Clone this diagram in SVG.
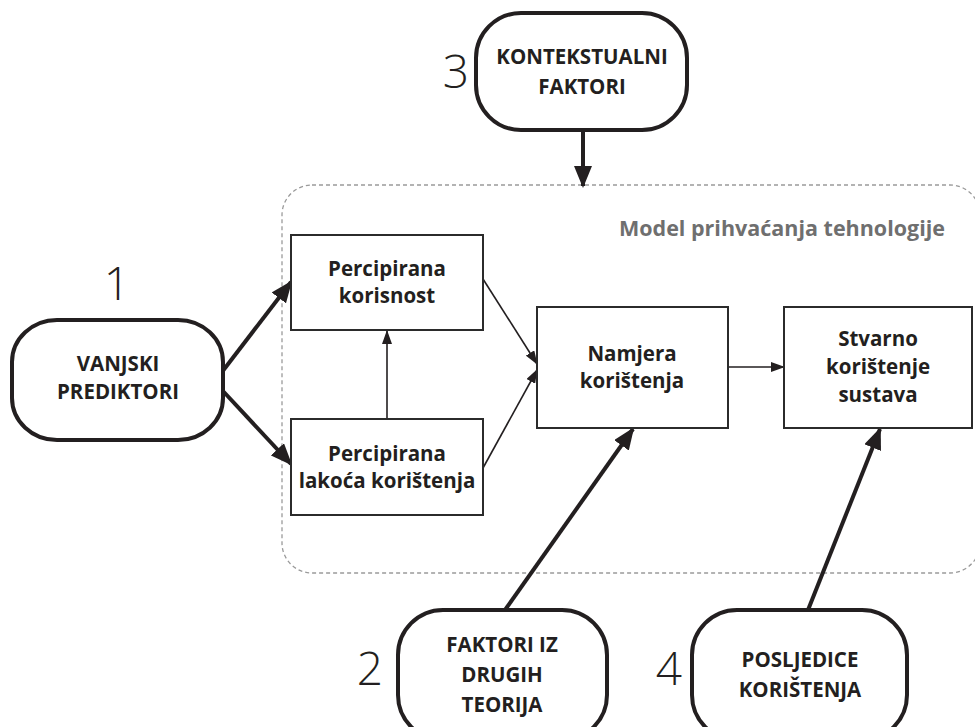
<svg xmlns="http://www.w3.org/2000/svg" width="975" height="727" viewBox="0 0 975 727">
<defs>
<style>
.ext{fill:#fff;stroke:#231f20;stroke-width:4}
.box{fill:#fff;stroke:#2b2b2b;stroke-width:2}
.ct{font-family:"Open Sans","Liberation Sans",sans-serif;font-weight:700;font-size:20.5px;fill:#231f20;text-anchor:middle}
.bt{font-family:"Open Sans","Liberation Sans",sans-serif;font-weight:700;font-size:20.5px;fill:#231f20;text-anchor:middle}
.num{font-family:"Open Sans","Liberation Sans",sans-serif;font-weight:300;font-size:46px;fill:#231f20;text-anchor:middle}
.thick{stroke:#231f20;stroke-width:4;fill:none}
.thin{stroke:#231f20;stroke-width:1.6;fill:none}
</style>
<marker id="hb" markerUnits="userSpaceOnUse" markerWidth="22" markerHeight="18" refX="20" refY="9" orient="auto"><path d="M0,0 L22,9 L0,18 Z" fill="#231f20"/></marker>
<marker id="hs" markerUnits="userSpaceOnUse" markerWidth="14" markerHeight="10" refX="13" refY="5" orient="auto"><path d="M0,0 L14,5 L0,10 Z" fill="#231f20"/></marker>
</defs>
<rect width="975" height="727" fill="#fff"/>
<g id="tam">
<rect x="282" y="185" width="698" height="388" rx="30" ry="30" fill="none" stroke="#9a9a9a" stroke-width="1.3" stroke-dasharray="4 3"/>
<text x="782" y="236" text-anchor="middle" style="font-family:'Open Sans','Liberation Sans',sans-serif;font-weight:700;font-size:21.5px;fill:#6f6f6f">Model prihvaćanja tehnologije</text>
</g>
<g id="connectors">
<line class="thick" x1="583" y1="130" x2="583" y2="186" marker-end="url(#hb)"/>
<line class="thick" x1="222" y1="372" x2="291" y2="282" marker-end="url(#hb)"/>
<line class="thick" x1="222" y1="390" x2="291" y2="464" marker-end="url(#hb)"/>
<line class="thin" x1="387" y1="419" x2="387" y2="331" marker-end="url(#hs)"/>
<line class="thin" x1="483" y1="279" x2="537" y2="364" marker-end="url(#hs)"/>
<line class="thin" x1="483" y1="468" x2="537" y2="370" marker-end="url(#hs)"/>
<line class="thin" x1="728" y1="367" x2="784" y2="367" marker-end="url(#hs)"/>
<line class="thick" x1="505" y1="610" x2="633" y2="429" marker-end="url(#hb)"/>
<line class="thick" x1="808" y1="610" x2="880" y2="429" marker-end="url(#hb)"/>
</g>
<g id="n3">
<rect class="ext" x="476" y="13" width="211" height="117" rx="45" ry="45"/>
<text class="ct" x="582" y="64">KONTEKSTUALNI</text>
<text class="ct" x="582" y="94">FAKTORI</text>
<text class="num" x="456" y="88">3</text>
</g>
<g id="n1">
<rect class="ext" x="12" y="320" width="211" height="120" rx="45" ry="42"/>
<text class="ct" x="118" y="371">VANJSKI</text>
<text class="ct" x="118" y="399">PREDIKTORI</text>
<text class="num" x="117" y="300">1</text>
</g>
<g id="pk">
<rect class="box" x="291" y="235" width="192" height="95"/>
<text class="bt" x="387" y="276">Percipirana</text>
<text class="bt" x="387" y="303">korisnost</text>
</g>
<g id="pl">
<rect class="box" x="291" y="419" width="192" height="96"/>
<text class="bt" x="387" y="461">Percipirana</text>
<text class="bt" x="387" y="488">lakoća korištenja</text>
</g>
<g id="nk">
<rect class="box" x="537" y="307" width="191" height="121"/>
<text class="bt" x="632" y="361">Namjera</text>
<text class="bt" x="632" y="388">korištenja</text>
</g>
<g id="sk">
<rect class="box" x="784" y="307" width="188" height="121"/>
<text class="bt" x="878" y="346">Stvarno</text>
<text class="bt" x="878" y="374">korištenje</text>
<text class="bt" x="878" y="402">sustava</text>
</g>
<g id="n2">
<rect class="ext" x="398" y="610" width="209" height="130" rx="45" ry="45"/>
<text class="ct" x="502" y="652">FAKTORI IZ</text>
<text class="ct" x="502" y="682">DRUGIH</text>
<text class="ct" x="502" y="712">TEORIJA</text>
<text class="num" x="370" y="685">2</text>
</g>
<g id="n4">
<rect class="ext" x="692" y="610" width="215" height="130" rx="45" ry="45"/>
<text class="ct" x="800" y="667">POSLJEDICE</text>
<text class="ct" x="800" y="697">KORIŠTENJA</text>
<text class="num" x="669" y="685">4</text>
</g>
</svg>
